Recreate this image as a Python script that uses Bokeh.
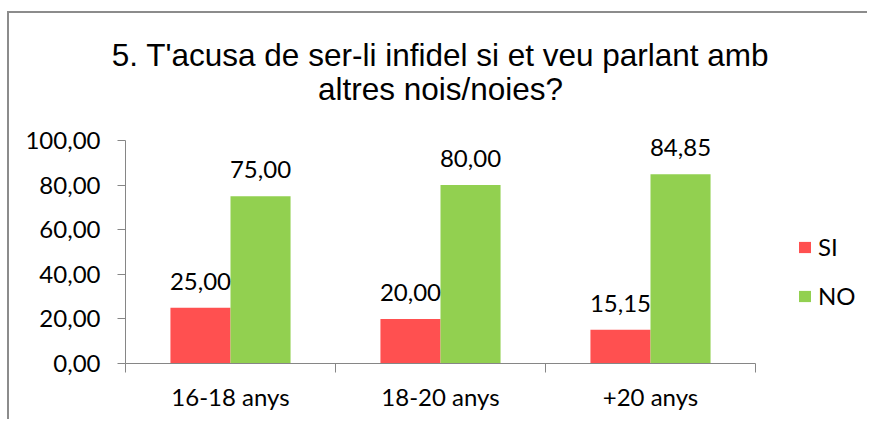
from bokeh.plotting import figure
from bokeh.models import (ColumnDataSource, Range1d, FixedTicker,
                          Legend, LegendItem, LabelSet, Label)
from bokeh.core.properties import value
from bokeh.embed import file_html
from bokeh.resources import INLINE

# ---- data ----
categories = ["16-18 anys", "18-20 anys", "+20 anys"]
series_names = ["SI", "NO"]
si_values = [25.00, 20.00, 15.15]
no_values = [75.00, 80.00, 84.85]
y_ticks = [0, 20, 40, 60, 80, 100]
title_lines = ["5. T'acusa de ser-li infidel si et veu parlant amb", "altres nois/noies?"]

# ---- style / layout ----
RED = "#FF5050"
GREEN = "#92D050"
AXIS = "#868686"
BORDER = "#8C8C8C"
BAR_W = 0.286
LABEL_FONT = "Lato"
LABEL_SIZE = "24px"
CAT_PX = 210          # pixel width of one category
FRAME_W = 860         # pixel width of the frame (whole chart width)
LEFT_PX = 116         # pixels between frame left edge and the value axis
FRAME_H = 408         # pixel height of the frame (whole chart height)
BOTTOM_PX = 58        # pixels between category axis and frame bottom
AXIS_H = 223          # pixel height of the 0..100 value axis
Y_MAX = 100


def fmt(v):
    return f"{v:.2f}".replace(".", ",")


n = len(categories)
centers = [i + 0.5 for i in range(n)]
src_si = ColumnDataSource(dict(x=[c - BAR_W / 2 for c in centers], y=si_values,
                               label=[fmt(v) for v in si_values]))
src_no = ColumnDataSource(dict(x=[c + BAR_W / 2 for c in centers], y=no_values,
                               label=[fmt(v) for v in no_values]))

p = figure(width=FRAME_W, height=FRAME_H,
           x_range=Range1d(-LEFT_PX / CAT_PX, (FRAME_W - LEFT_PX) / CAT_PX),
           y_range=Range1d(-Y_MAX * BOTTOM_PX / AXIS_H,
                           Y_MAX * (FRAME_H - BOTTOM_PX) / AXIS_H),
           output_backend="svg", toolbar_location=None,
           min_border_left=0, min_border_right=0, min_border_top=0,
           min_border_bottom=0)
p.styles = {"border-left": f"2px solid {BORDER}", "border-top": f"2px solid {BORDER}"}
p.margin = (11, 0, 0, 7)

p.background_fill_color = "white"
p.border_fill_color = "white"
p.outline_line_color = None
p.xgrid.visible = False
p.ygrid.visible = False

r_si = p.vbar(x="x", top="y", width=BAR_W, source=src_si, fill_color=RED, line_color=None)
r_no = p.vbar(x="x", top="y", width=BAR_W, source=src_no, fill_color=GREEN, line_color=None)

for src in (src_si, src_no):
    p.add_layout(LabelSet(x="x", y="y", text="label", source=src, y_offset=18,
                          text_align="center", text_baseline="alphabetic",
                          text_font=value(LABEL_FONT), text_font_size=value(LABEL_SIZE),
                          text_color="black"))

# title: two lines, centred over the middle of the category axis
for line, ys in zip(title_lines, (309 + BOTTOM_PX, 275 + BOTTOM_PX)):
    p.add_layout(Label(x=n / 2, x_units="data", y=ys, y_units="screen", text=line,
                       text_align="center", text_baseline="alphabetic",
                       text_font="Liberation Sans", text_font_size="31.5px",
                       text_color="black"))

# x axis at value 0: category labels at centres, ticks at boundaries
p.xaxis.fixed_location = 0
p.xaxis.ticker = FixedTicker(ticks=centers, minor_ticks=list(range(n + 1)))
p.xaxis.major_label_overrides = {c: cat for c, cat in zip(centers, categories)}
p.xaxis.bounds = (0, n)
p.xaxis.major_tick_out = 0
p.xaxis.major_tick_in = 0
p.xaxis.minor_tick_out = 9
p.xaxis.minor_tick_in = 0
p.xaxis.minor_tick_line_color = AXIS
p.xaxis.major_label_standoff = 9

# y axis at the left edge of the categories
p.yaxis.fixed_location = 0
p.yaxis.ticker = FixedTicker(ticks=y_ticks)
p.yaxis.major_label_overrides = {t: fmt(t) for t in y_ticks}
p.yaxis.bounds = (0, Y_MAX)
p.yaxis.major_tick_out = 8
p.yaxis.major_tick_in = 0
p.yaxis.minor_tick_out = 0
p.yaxis.minor_tick_in = 0
p.yaxis.major_label_standoff = 17

p.axis.axis_line_color = AXIS
p.axis.major_tick_line_color = AXIS
p.axis.major_label_text_font = LABEL_FONT
p.axis.major_label_text_font_size = LABEL_SIZE
p.axis.major_label_text_color = "black"

legend = Legend(items=[LegendItem(label=series_names[0], renderers=[r_si]),
                       LegendItem(label=series_names[1], renderers=[r_no])],
                location=(788, 53 + BOTTOM_PX), glyph_width=15, glyph_height=14,
                label_standoff=6, spacing=20, padding=0, margin=0,
                border_line_color=None, background_fill_alpha=0,
                label_text_font=LABEL_FONT, label_text_font_size=LABEL_SIZE,
                label_text_color="black")
p.add_layout(legend, "center")

open("out.html", "w").write(file_html(p, INLINE))
